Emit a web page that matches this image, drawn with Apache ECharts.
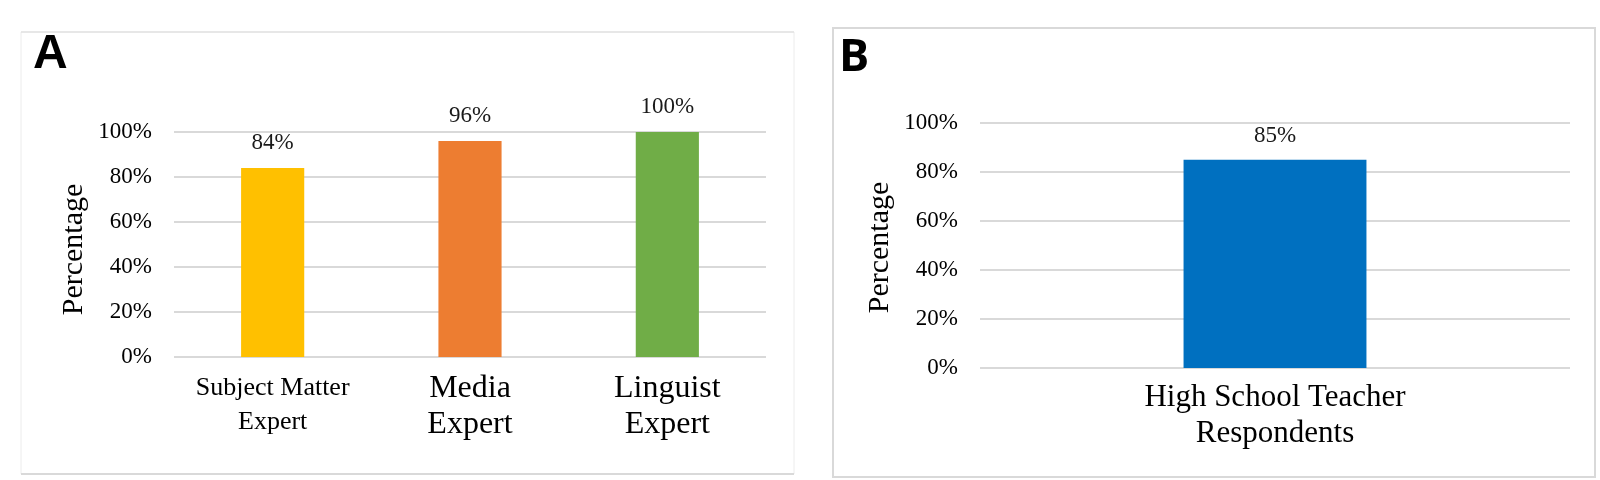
<!DOCTYPE html>
<html>
<head>
<meta charset="utf-8">
<script src="https://cdn.jsdelivr.net/npm/echarts@6/dist/echarts.min.js"></script>
<style>
html,body{margin:0;padding:0;background:#fff;}
#c{width:1600px;height:480px;}
</style>
</head>
<body>
<div id="c"></div>
<script>
// Panel A data
const categoriesA = ['Subject Matter\nExpert', 'Media\nExpert', 'Linguist\nExpert'];
const valuesA = [84, 96, 100];
const colorsA = ['#FFC000', '#ED7D31', '#70AD47'];
// Panel B data
const categoriesB = ['High School Teacher\nRespondents'];
const valuesB = [85];
const colorsB = ['#0070C0'];
const yTicks = [0, 20, 40, 60, 80, 100];
const panelLabels = ['A', 'B'];
const yAxisName = 'Percentage';

const serif = '"Liberation Serif","Times New Roman",serif';
const gridColor = '#d9d9d9';

function yAxis(gridIndex, shift) {
  return {
    type: 'value', gridIndex: gridIndex,
    min: yTicks[0], max: yTicks[yTicks.length - 1], interval: yTicks[1] - yTicks[0],
    name: yAxisName, nameLocation: 'middle', nameRotate: 90, nameGap: 85,
    nameTextStyle: { fontFamily: serif, fontSize: 30, color: '#000', padding: [0, shift, 0, 0] },
    axisLine: { show: false }, axisTick: { show: false },
    axisLabel: { formatter: '{value}%', fontFamily: serif, fontSize: 23, color: '#000', margin: 22 },
    splitLine: { show: true, lineStyle: { color: gridColor, width: 2 } }
  };
}

const xDataA = categoriesA.map((c, i) => ({
  value: c,
  textStyle: i === 0 ? { fontSize: 26, lineHeight: 34 } : { fontSize: 32, lineHeight: 36 }
}));

const option = {
  animation: false,
  backgroundColor: '#fff',
  graphic: [
    { type: 'rect', shape: { x: 21, y: 32, width: 773, height: 442 }, style: { fill: 'none', stroke: '#ececec', lineWidth: 1 }, silent: true },
    { type: 'line', shape: { x1: 21, y1: 474, x2: 794, y2: 474 }, style: { stroke: '#d9d9d9', lineWidth: 2 }, silent: true },
    { type: 'line', shape: { x1: 21, y1: 32, x2: 794, y2: 32 }, style: { stroke: '#e2e2e2', lineWidth: 1.5 }, silent: true },
    { type: 'rect', shape: { x: 833, y: 28, width: 762, height: 449 }, style: { fill: 'none', stroke: '#d9d9d9', lineWidth: 2 }, silent: true },
    { type: 'text', x: 33, y: 55, style: { text: panelLabels[0], font: 'bold 48px "Liberation Sans", Arial, sans-serif', fill: '#000', textVerticalAlign: 'middle' }, silent: true },
    { type: 'text', x: 839, y: 58, style: { text: panelLabels[1], font: 'bold 45px "Open Sans", "Liberation Sans", sans-serif', fill: '#000', textVerticalAlign: 'middle' }, silent: true }
  ],
  grid: [
    { left: 174, right: 834, top: 132, bottom: 123 },
    { left: 980, right: 30, top: 123, bottom: 112 }
  ],
  xAxis: [
    {
      type: 'category', gridIndex: 0, data: xDataA,
      axisLine: { show: false }, axisTick: { show: false },
      axisLabel: { fontFamily: serif, color: '#000', margin: 14, interval: 0 }
    },
    {
      type: 'category', gridIndex: 1, data: categoriesB,
      axisLine: { show: false }, axisTick: { show: false },
      axisLabel: { fontFamily: serif, color: '#000', fontSize: 31, lineHeight: 36, margin: 12 }
    }
  ],
  yAxis: [yAxis(0, 10), yAxis(1, 4)],
  series: [
    {
      type: 'bar', xAxisIndex: 0, yAxisIndex: 0, barWidth: '32%',
      data: valuesA.map((v, i) => ({ value: v, itemStyle: { color: colorsA[i] } })),
      label: { show: true, position: 'top', distance: 14, formatter: '{c}%', fontFamily: serif, fontSize: 23, color: '#1a1a1a' }
    },
    {
      type: 'bar', xAxisIndex: 1, yAxisIndex: 1, barWidth: '31%',
      data: valuesB.map((v, i) => ({ value: v, itemStyle: { color: colorsB[i] } })),
      label: { show: true, position: 'top', distance: 12, formatter: '{c}%', fontFamily: serif, fontSize: 23, color: '#1a1a1a' }
    }
  ]
};

const chart = echarts.init(document.getElementById('c'));
chart.setOption(option);
</script>
</body>
</html>
